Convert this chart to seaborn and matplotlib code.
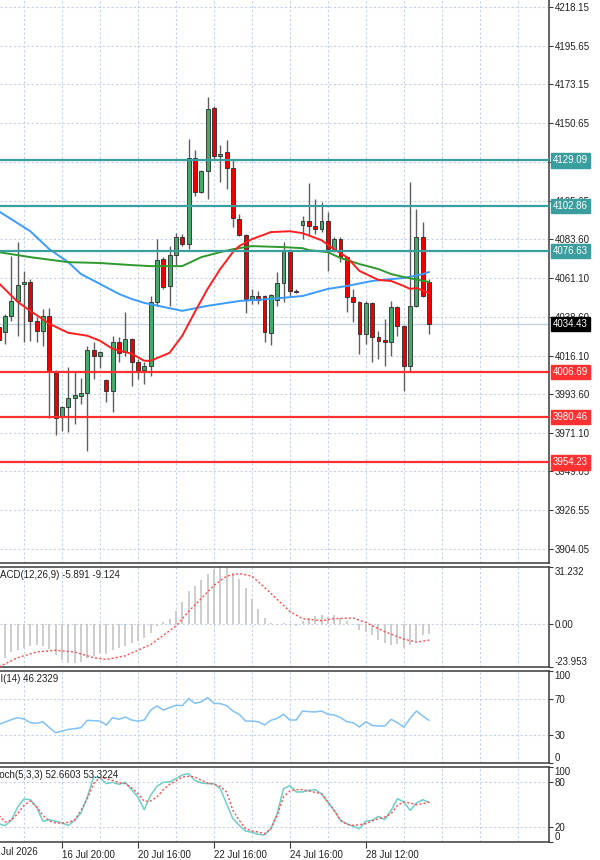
"""MT4-style chart: candles with moving averages and levels, plus MACD, RSI and Stochastic panels."""

import matplotlib

matplotlib.use("Agg")
import matplotlib.pyplot as plt
import numpy as np
import pandas as pd
import seaborn as sns

# --- price bars (bar 0 is the candle cut off at the left edge) ---
opens = [4032.7, 4029.9, 4039.1, 4047.7, 4057.6, 4058.7, 4036.2, 4030.4, 4039.1, 4007.4,
         3980.8, 3986.6, 3991.8, 3992.9, 3994.7, 4019.5, 4016.0, 4002.2, 3995.8, 4024.1,
         4018.3, 4025.8, 4012.5, 4007.9, 4010.2, 4047.2, 4072.0, 4056.4, 4074.3, 4084.7,
         4080.6, 4130.8, 4110.6, 4122.8, 4159.7, 4131.4, 4133.7, 4124.5, 4095.1, 4085.8,
         4048.9, 4050.6, 4050.6, 4029.3, 4048.3, 4058.1, 4076.6, 4053.7, 4091.6, 4093.9,
         4091.0, 4089.3, 4093.9, 4077.7, 4083.5, 4073.1, 4050.1, 4047.2, 4028.7, 4046.6,
         4027.0, 4025.2, 4024.1, 4044.3, 4033.3, 4010.2, 4044.9, 4084.7, 4058.7]
highs = [4036.2, 4040.2, 4073.7, 4081.8, 4065.1, 4060.4, 4038.5, 4043.1, 4043.7, 4007.9,
         3987.0, 4009.7, 4007.4, 4003.3, 4021.8, 4024.1, 4018.9, 4002.7, 4027.6, 4027.0,
         4041.4, 4026.5, 4014.3, 4012.5, 4050.6, 4083.5, 4073.1, 4079.5, 4087.0, 4086.4,
         4141.8, 4135.4, 4123.5, 4166.0, 4160.5, 4138.3, 4141.2, 4129.7, 4097.9, 4086.4,
         4054.7, 4053.5, 4051.2, 4051.8, 4064.5, 4081.8, 4077.7, 4054.7, 4096.8, 4115.8,
         4106.6, 4104.9, 4099.1, 4084.7, 4084.7, 4073.7, 4054.7, 4047.5, 4047.7, 4047.2,
         4030.4, 4037.4, 4047.7, 4044.9, 4033.6, 4116.4, 4100.8, 4093.3, 4060.4]
lows = [4022.9, 4022.9, 4036.2, 4027.6, 4024.1, 4024.7, 4024.1, 4021.8, 3979.7, 3969.9,
        3972.7, 3971.6, 3976.2, 3988.3, 3960.6, 4002.7, 4009.1, 3989.5, 3983.7, 4012.5,
        4016.0, 3998.7, 4002.7, 3999.9, 4004.5, 4044.9, 4054.7, 4044.9, 4067.9, 4079.5,
        4077.7, 4108.3, 4110.0, 4106.6, 4129.7, 4116.4, 4112.4, 4090.4, 4085.3, 4040.8,
        4046.0, 4046.0, 4024.1, 4022.4, 4044.9, 4047.2, 4050.1, 4052.4, 4083.5, 4085.3,
        4086.4, 4087.6, 4065.1, 4076.0, 4070.2, 4041.4, 4035.6, 4017.2, 4022.9, 4012.5,
        4014.3, 4010.2, 4016.0, 4027.6, 3995.8, 4007.4, 4044.5, 4050.1, 4028.7]
closes = [4025.2, 4039.1, 4047.7, 4057.0, 4058.7, 4036.2, 4030.4, 4039.1, 4007.4, 3980.2,
          3986.6, 3991.8, 3993.5, 3994.7, 4019.5, 4016.0, 4018.3, 3995.8, 4024.1, 4017.7,
          4025.8, 4012.5, 4007.4, 4010.2, 4047.2, 4071.4, 4055.8, 4074.3, 4084.7, 4080.6,
          4130.8, 4110.6, 4122.8, 4159.1, 4131.4, 4133.1, 4124.5, 4095.6, 4085.8, 4048.9,
          4050.6, 4048.3, 4029.9, 4051.2, 4058.1, 4076.6, 4053.5, 4053.1, 4093.9, 4091.0,
          4089.3, 4093.9, 4077.7, 4083.5, 4073.1, 4050.1, 4047.2, 4028.7, 4046.6, 4027.0,
          4024.7, 4024.1, 4044.3, 4033.3, 4010.2, 4044.9, 4084.7, 4050.6, 4034.43]

# --- moving averages, read at selected bars ---
ma_red_bars = [0, 3, 5, 8, 11, 14, 16, 18, 21, 23, 24, 27, 29, 31, 33, 35, 37, 38, 40, 43,
               46, 48, 51, 53, 55, 57, 60, 62, 64, 65, 66, 68]
ma_red = [4058.1, 4047.2, 4042.0, 4034.5, 4029.3, 4027.6, 4024.7, 4020.0, 4017.2, 4013.1,
          4013.1, 4017.7, 4027.6, 4041.4, 4054.7, 4066.2, 4076.0, 4079.5, 4083.5, 4087.6,
          4088.1, 4087.0, 4082.9, 4077.7, 4073.1, 4065.1, 4059.9, 4059.3, 4056.4, 4054.7,
          4055.2, 4052.4]
ma_green_bars = [0, 5, 11, 16, 21, 24, 29, 32, 35, 37, 40, 45, 48, 49, 52, 54, 57, 60, 62, 64, 68]
ma_green = [4076.0, 4073.1, 4070.2, 4069.7, 4068.5, 4067.9, 4067.9, 4073.1, 4076.0, 4077.7,
            4079.5, 4078.9, 4078.3, 4077.2, 4076.0, 4072.6, 4069.1, 4066.2, 4063.3, 4061.6, 4058.7]
ma_blue_bars = [0, 5, 8, 11, 13, 16, 19, 21, 23, 29, 33, 38, 43, 48, 52, 55, 59, 62, 64, 67, 68]
ma_blue = [4099.7, 4088.1, 4077.7, 4070.2, 4063.3, 4057.6, 4051.8, 4048.9, 4046.6, 4042.0,
           4044.9, 4047.7, 4048.9, 4050.6, 4054.7, 4056.4, 4059.3, 4060.4, 4061.0, 4063.3, 4064.5]

# --- horizontal levels ---
resistance_levels = [4129.09, 4102.86, 4076.63]
support_levels = [4006.69, 3980.46, 3954.23]
last_price = 4034.43
price_ticks = [4218.15, 4195.65, 4173.15, 4150.65, 4128.15, 4105.65, 4083.60, 4061.10,
               4038.60, 4016.10, 3993.60, 3971.10, 3949.05, 3926.55, 3904.05]
hidden_price_ticks = [4128.15]  # fully covered by the 4129.09 box in the terminal

# --- MACD(12,26,9) ---
macd_main = [-19.8, -18.8, -15.7, -14.7, -13.3, -12.1, -11.6, -12.1, -14.1, -17.4,
             -20.2, -21.5, -21.9, -21.0, -18.8, -17.8, -16.1, -16.8, -14.7, -13.3,
             -12.1, -10.8, -9.6, -8.0, -5.1, -1.4, 1.0, 2.7, 6.7, 11.8,
             18.0, 21.0, 24.1, 27.5, 30.4, 31.232, 30.6, 28.0, 24.7, 19.4,
             13.3, 7.8, 3.1, 0.6, -0.6, 0.2, -0.6, -1.4, 1.6, 3.1,
             4.3, 4.7, 3.7, 4.7, 3.1, 1.6, -0.4, -3.5, -4.5, -6.5,
             -9.2, -10.6, -11.6, -11.2, -13.7, -11.6, -9.6, -6.5, -5.891]
macd_signal_bars = [0, 3, 6, 9, 12, 15, 17, 20, 24, 28, 30, 34, 36, 38, 40, 42, 46, 48,
                    51, 53, 56, 58, 61, 64, 66, 68]
macd_signal = [-23.953, -18.8, -15.7, -14.7, -15.7, -18.8, -19.8, -17.8, -11.6, -1.4,
               6.7, 21.0, 26.2, 27.6, 26.2, 20.0, 6.7, 2.7, 1.6, 2.7, 3.1, 0.6, -4.5,
               -8.6, -10.2, -9.124]

# --- RSI(14) ---
rsi = [42.0, 44.5, 47.1, 49.3, 47.8, 43.8, 43.1, 44.9, 38.4, 32.9,
       34.7, 36.5, 37.3, 38.4, 46.4, 46.0, 45.6, 41.3, 49.3, 47.5,
       50.0, 46.7, 45.6, 46.7, 57.3, 62.0, 57.6, 60.2, 62.7, 62.4,
       70.0, 64.9, 66.4, 71.1, 64.9, 64.5, 62.4, 56.5, 52.9, 45.6,
       45.6, 44.9, 41.3, 46.4, 48.5, 52.9, 46.7, 46.7, 56.5, 55.8,
       55.5, 56.5, 52.9, 52.2, 49.3, 44.9, 43.8, 39.1, 44.9, 40.9,
       40.2, 40.2, 47.5, 43.8, 39.1, 48.5, 56.5, 51.1, 46.2329]

# --- Stochastic(5,3,3) ---
stoch_main = [24.4, 21.8, 28.9, 46.7, 57.3, 56.4, 46.7, 27.6, 29.8, 27.6,
              25.3, 22.2, 28.9, 38.7, 60.0, 86.7, 85.8, 77.8, 79.6, 76.9,
              79.6, 69.8, 60.0, 43.1, 62.2, 74.2, 79.6, 80.0, 84.4, 89.3,
              91.1, 82.2, 78.7, 77.8, 77.8, 71.1, 51.1, 31.1, 22.2, 14.7,
              12.9, 10.2, 9.3, 17.8, 37.8, 71.1, 75.1, 66.7, 66.7, 68.9,
              69.8, 64.4, 53.3, 42.2, 28.9, 24.4, 20.9, 17.8, 27.6, 28.9,
              34.2, 29.8, 42.2, 57.8, 53.3, 42.2, 52.0, 56.4, 52.6603]
stoch_signal = [35.6, 26.7, 28.9, 37.8, 48.9, 54.7, 46.7, 35.6, 28.0, 25.3,
                25.3, 26.2, 28.9, 42.2, 57.8, 77.8, 85.8, 84.4, 82.2, 79.1,
                77.8, 72.4, 64.4, 54.2, 54.7, 60.0, 69.8, 76.9, 81.3, 86.7,
                87.6, 86.7, 82.2, 78.7, 76.9, 74.2, 66.7, 42.2, 28.9, 17.8,
                14.7, 13.3, 11.1, 17.8, 35.6, 60.0, 68.0, 69.8, 69.8, 68.0,
                66.2, 64.4, 53.3, 42.2, 28.9, 23.6, 22.2, 23.1, 24.4, 28.0,
                31.1, 33.3, 37.8, 48.9, 53.3, 52.0, 49.8, 51.1, 53.3224]

# --- time axis ---
date_tick_bars = [10, 22, 34, 46, 58]
date_tick_labels = ["16 Jul 20:00", "20 Jul 16:00", "22 Jul 16:00", "24 Jul 16:00", "28 Jul 12:00"]
first_date_label = "Jul 2026"

COLORS = {
    "grid": "#C5D2E6",
    "bull": "#45A96B",
    "bear": "#EE0000",
    "edge": "#2B2B2B",
    "wick": "#5E5E5E",
    "teal": "#3A9E9E",
    "red_level": "#FF3030",
    "ma_red": "#FF1E1E",
    "ma_green": "#2E9A2E",
    "ma_blue": "#3A9CFF",
    "hist": "#C9C9C9",
    "signal": "#FF4D4D",
    "rsi": "#80C2F5",
    "stoch": "#6CCFC8",
    "frame": "#3A3A3A",
    "text": "#222222",
}

FIG_W, FIG_H = 600, 860
AX_RIGHT = 549
XLIM = (0.21, 86.94)
FS = 7


def add_panel(fig, top_px, bottom_px):
    ax = fig.add_axes([0, 1 - bottom_px / FIG_H, AX_RIGHT / FIG_W, (bottom_px - top_px) / FIG_H])
    ax.set_xlim(*XLIM)
    ax.set_facecolor("white")
    for side in ("top", "bottom", "right"):
        ax.spines[side].set_color(COLORS["frame"])
        ax.spines[side].set_linewidth(1.1)
    ax.spines["left"].set_visible(False)
    ax.yaxis.tick_right()
    ax.tick_params(axis="y", length=3, width=0.8, pad=1, labelsize=FS, colors=COLORS["frame"],
                   labelcolor=COLORS["text"])
    ax.tick_params(axis="x", bottom=False, labelbottom=False)
    for b in range(4, 87, 6):
        ax.axvline(b, color=COLORS["grid"], lw=0.8, ls=(0, (2, 2)), zorder=0)
    ax.set_xlabel("")
    ax.set_ylabel("")
    return ax


def panel_title(ax, text, dx):
    ax.annotate(text, xy=(0, 1), xycoords="axes fraction", xytext=(dx, -3),
                textcoords="offset pixels", ha="left", va="top", fontsize=FS,
                color=COLORS["text"], annotation_clip=False)


def boxed_label(ax, value, face):
    ax.text(553 / AX_RIGHT, value, f"{value:.2f}", transform=ax.get_yaxis_transform(),
            ha="left", va="center", fontsize=FS, color="white", zorder=30, clip_on=False,
            bbox=dict(boxstyle="square,pad=0.22", fc=face, ec=face))


def edge_ticks(ax, values, labels):
    ax.set_yticks(values)
    ax.set_yticklabels(labels)
    tl = ax.get_yticklabels()
    tl[0].set_va("top")
    tl[-1].set_va("bottom")


sns.set_theme(style="white")
plt.rcParams["font.family"] = ["Liberation Sans", "DejaVu Sans"]

fig = plt.figure(figsize=(FIG_W / 100, FIG_H / 100), dpi=100)
fig.patch.set_facecolor("white")

# ---------------- main price panel ----------------
ax = add_panel(fig, 0, 563)
ax.spines["top"].set_visible(False)
ax.set_ylim(3896.0, 4222.0)
ax.set_yticks(price_ticks)
ax.set_yticklabels(["" if t in hidden_price_ticks else f"{t:.2f}" for t in price_ticks])
for t in price_ticks:
    ax.axhline(t, color=COLORS["grid"], lw=0.8, ls=(0, (2, 2)), zorder=0)

bars = pd.DataFrame({"open": opens, "high": highs, "low": lows, "close": closes})
bars["x"] = np.arange(len(bars))
bars["bull"] = bars["close"] >= bars["open"]
bars["body_lo"] = bars[["open", "close"]].min(axis=1)
bars["body_h"] = (bars["close"] - bars["open"]).abs().clip(lower=0.5)

ax.vlines(bars["x"], bars["low"], bars["high"], color=COLORS["wick"], lw=1.0, zorder=2)
ax.bar(bars["x"], bars["body_h"], bottom=bars["body_lo"], width=0.62,
       color=np.where(bars["bull"], COLORS["bull"], COLORS["bear"]),
       edgecolor=COLORS["edge"], linewidth=0.6, zorder=3)

ax.axhline(last_price, color="#C3D3E3", lw=1.0, zorder=1)

sns.lineplot(x=ma_blue_bars, y=ma_blue, color=COLORS["ma_blue"], lw=1.4, ax=ax, zorder=4,
             legend=False, estimator=None, sort=False)
sns.lineplot(x=ma_green_bars, y=ma_green, color=COLORS["ma_green"], lw=1.4, ax=ax, zorder=4,
             legend=False, estimator=None, sort=False)
sns.lineplot(x=ma_red_bars, y=ma_red, color=COLORS["ma_red"], lw=1.4, ax=ax, zorder=4,
             legend=False, estimator=None, sort=False)

for lvl in resistance_levels:
    ax.axhline(lvl, color=COLORS["teal"], lw=1.6, zorder=5)
    boxed_label(ax, lvl, COLORS["teal"])
for lvl in support_levels:
    ax.axhline(lvl, color=COLORS["red_level"], lw=1.6, zorder=5)
    boxed_label(ax, lvl, COLORS["red_level"])
boxed_label(ax, last_price, "#000000")
ax.set_xlim(*XLIM)
ax.set_xlabel("")
ax.set_ylabel("")

# ---------------- MACD ----------------
ax_macd = add_panel(fig, 567, 667)
ax_macd.set_ylim(-23.953, 31.232)
ax_macd.axhline(0, color=COLORS["grid"], lw=0.8, ls=(0, (2, 2)), zorder=0)
ax_macd.vlines(np.arange(len(macd_main)), 0, macd_main, color=COLORS["hist"], lw=1.3, zorder=2)
sns.lineplot(x=macd_signal_bars, y=macd_signal, color=COLORS["signal"], lw=1.0,
             linestyle=(0, (1.5, 1.5)), ax=ax_macd, zorder=3, legend=False,
             estimator=None, sort=False)
edge_ticks(ax_macd, [31.232, 0, -23.953], ["31.232", "0.00", "-23.953"])
ax_macd.set_xlim(*XLIM)
ax_macd.set_xlabel("")
ax_macd.set_ylabel("")
panel_title(ax_macd, "MACD(12,26,9) -5.891 -9.124", -8)

# ---------------- RSI ----------------
ax_rsi = add_panel(fig, 671, 763)
ax_rsi.set_ylim(0, 100)
for lvl in (30, 70):
    ax_rsi.axhline(lvl, color=COLORS["grid"], lw=0.8, ls=(0, (2, 2)), zorder=0)
sns.lineplot(x=np.arange(len(rsi)), y=rsi, color=COLORS["rsi"], lw=1.1, ax=ax_rsi,
             legend=False, estimator=None, sort=False)
edge_ticks(ax_rsi, [100, 70, 30, 0], ["100", "70", "30", "0"])
ax_rsi.set_xlim(*XLIM)
ax_rsi.set_xlabel("")
ax_rsi.set_ylabel("")
panel_title(ax_rsi, "RSI(14) 46.2329", -13)

# ---------------- Stochastic ----------------
ax_st = add_panel(fig, 767, 842)
ax_st.set_ylim(0, 100)
for lvl in (20, 80):
    ax_st.axhline(lvl, color=COLORS["grid"], lw=0.8, ls=(0, (2, 2)), zorder=0)
sns.lineplot(x=np.arange(len(stoch_main)), y=stoch_main, color=COLORS["stoch"], lw=1.1,
             ax=ax_st, legend=False, estimator=None, sort=False)
sns.lineplot(x=np.arange(len(stoch_signal)), y=stoch_signal, color=COLORS["signal"], lw=1.0,
             linestyle=(0, (1.5, 1.5)), ax=ax_st, legend=False, estimator=None, sort=False)
edge_ticks(ax_st, [100, 80, 20, 0], ["100", "80", "20", "0"])
ax_st.set_xlim(*XLIM)
ax_st.set_xlabel("")
ax_st.set_ylabel("")
panel_title(ax_st, "Stoch(5,3,3) 52.6603 53.3224", -10)

ax_st.set_xticks(date_tick_bars)
ax_st.set_xticklabels(date_tick_labels)
ax_st.tick_params(axis="x", bottom=True, labelbottom=True, length=4, width=0.8, pad=2,
                  labelsize=FS, colors=COLORS["frame"], labelcolor=COLORS["text"])
for lab in ax_st.get_xticklabels():
    lab.set_ha("left")
fig.text(1 / FIG_W, 1 - 852 / FIG_H, first_date_label, ha="left", va="center",
         fontsize=FS, color=COLORS["text"])

fig.savefig("out.png", dpi=100)
